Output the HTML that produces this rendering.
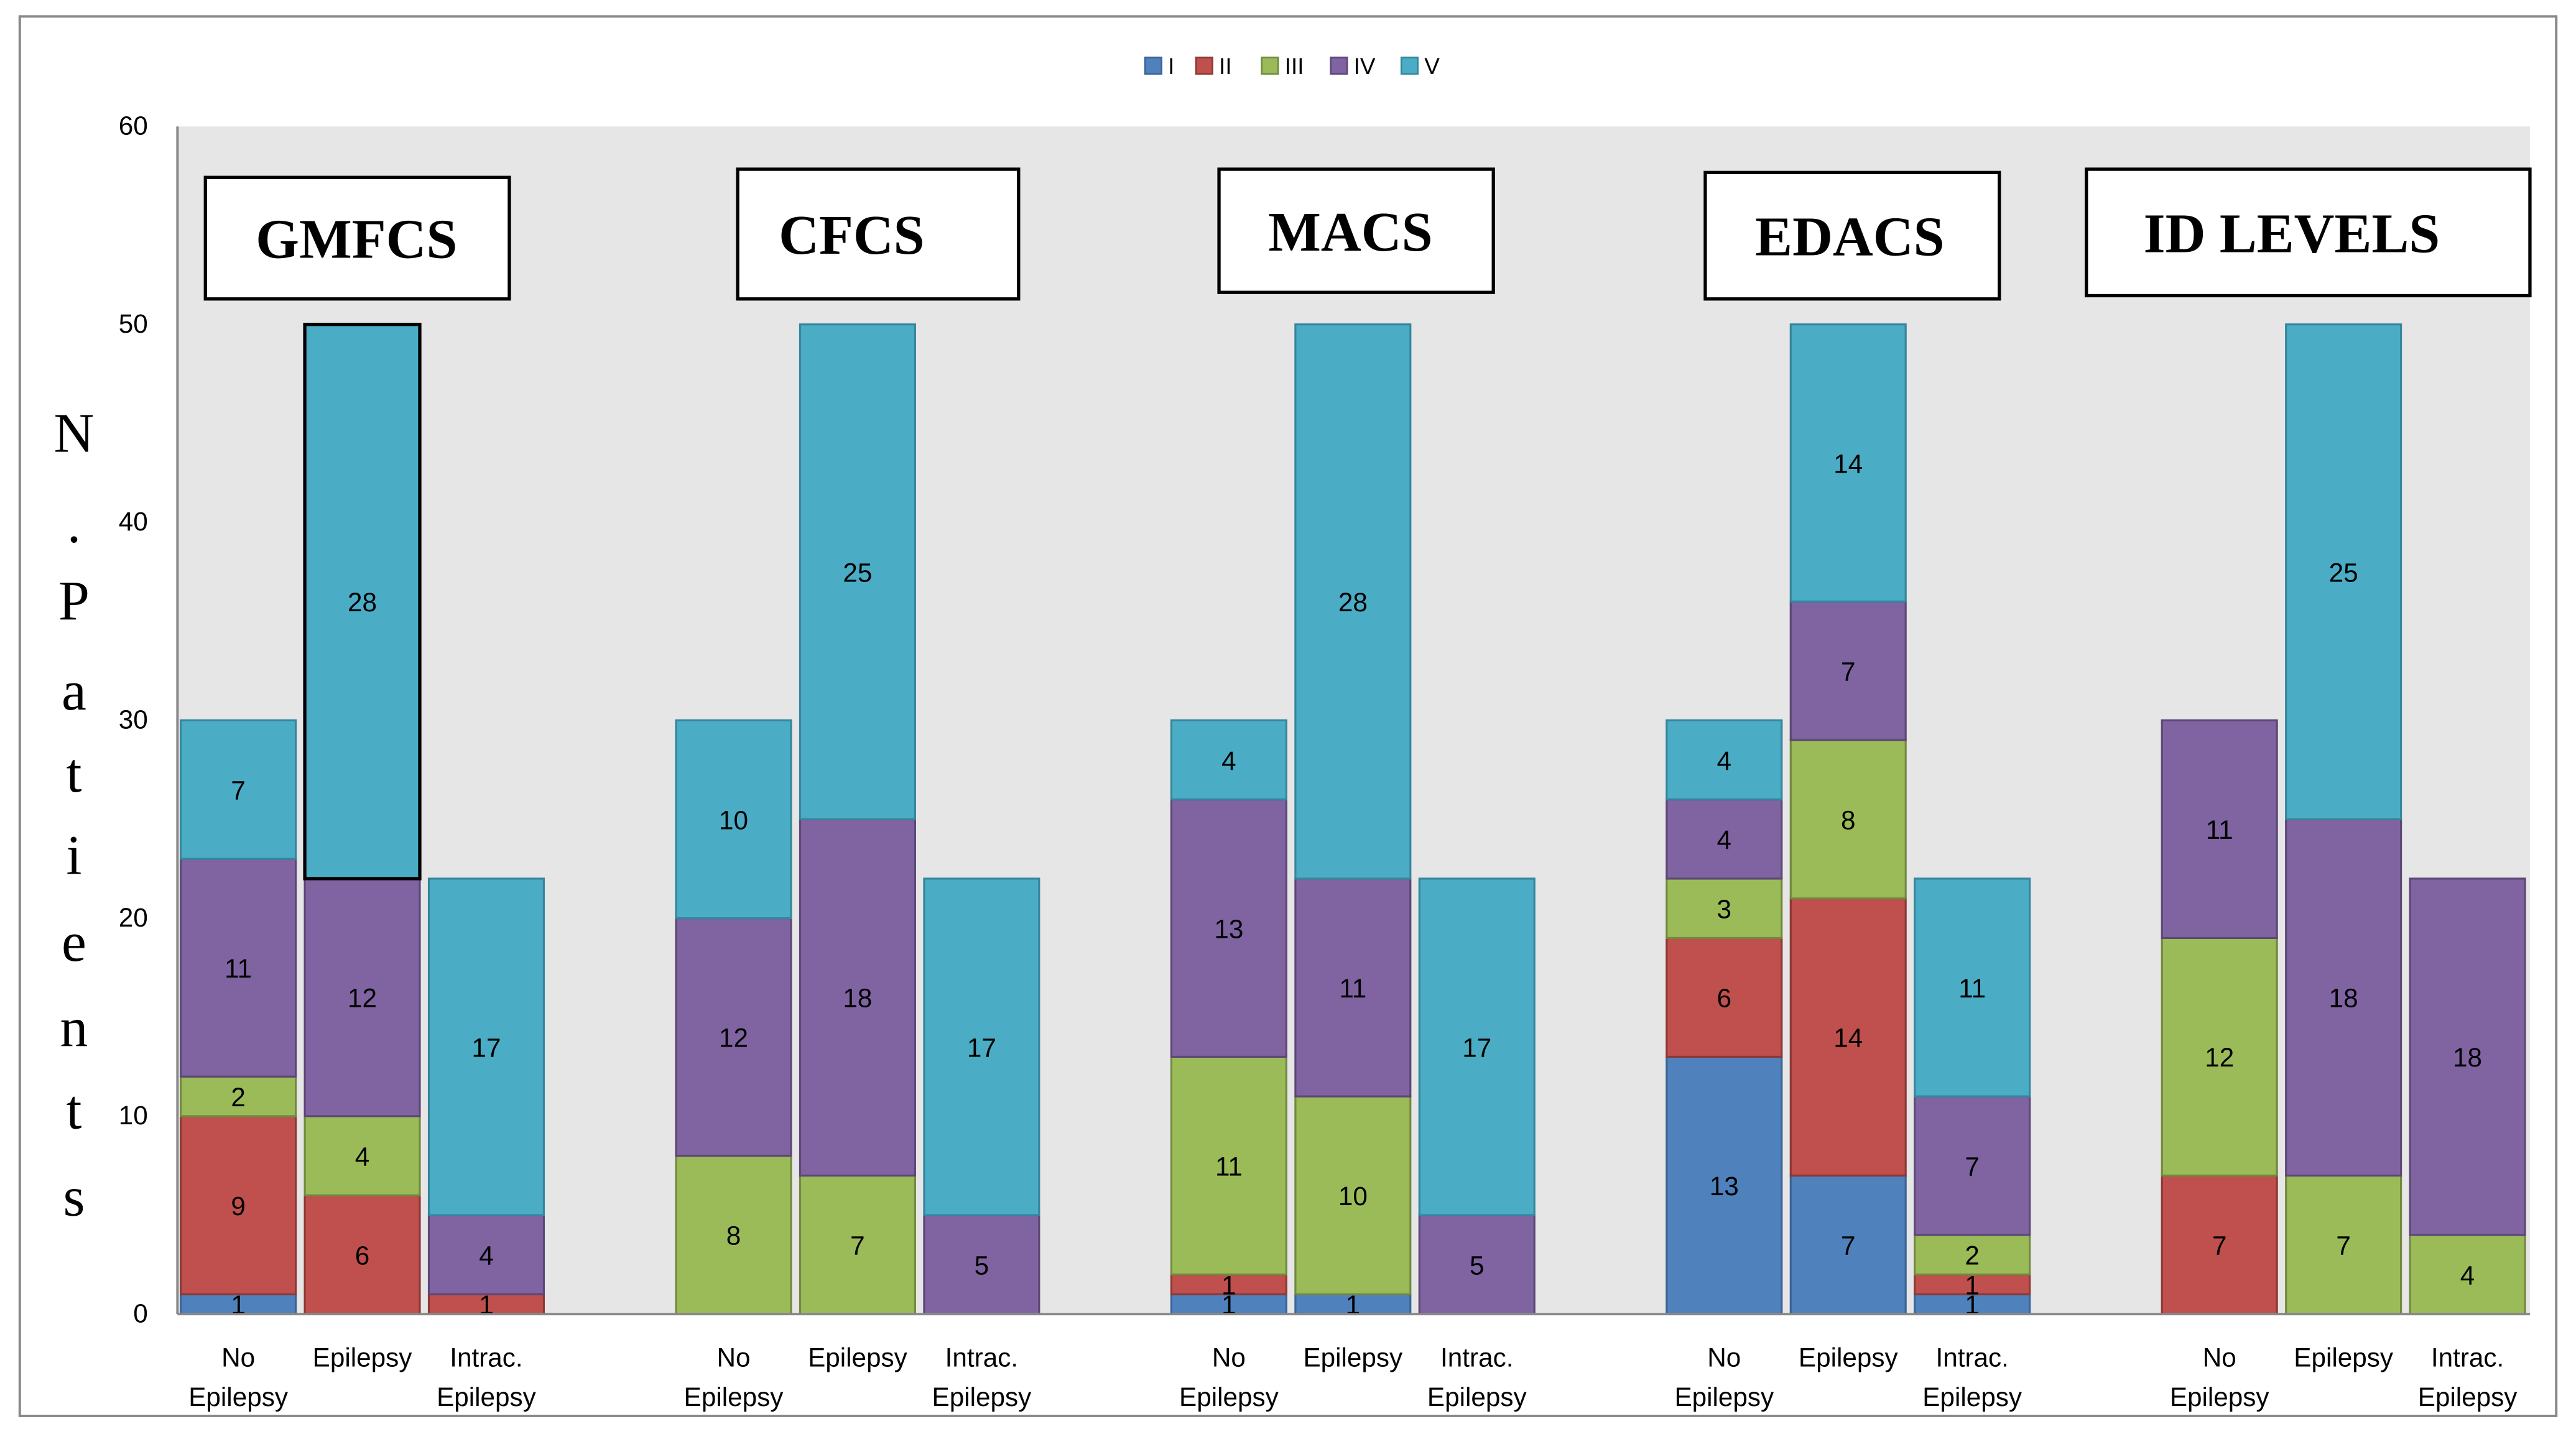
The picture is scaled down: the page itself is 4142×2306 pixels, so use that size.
<!DOCTYPE html>
<html><head><meta charset="utf-8"><style>
html,body{margin:0;padding:0;background:#fff;}
svg{display:block;}
</style></head><body>
<svg id="chart" width="4142" height="2306" viewBox="0 0 1568 873" xmlns="http://www.w3.org/2000/svg">
<rect x="12" y="10" width="1544" height="852" fill="#fff" stroke="#888" stroke-width="1.5"/>
<rect x="108" y="77" width="1432" height="723" fill="#e6e6e6"/>
<g id="yticks"></g>
<g id="bars"></g>
<line x1="108" y1="77" x2="108" y2="800" stroke="#888" stroke-width="1.5"/>
<line x1="108" y1="800" x2="1540" y2="800" stroke="#888" stroke-width="1.5"/>
<g id="xlabels"></g>
<g id="titles"></g>
<g id="legend"></g>
<g id="ytitle"></g>
</svg>
<script>
const groups = ["GMFCS","CFCS","MACS","EDACS","ID LEVELS"];
const categories = ["No Epilepsy","Epilepsy","Intrac. Epilepsy"];
const seriesNames = ["I","II","III","IV","V"];
// values[group][category] = [I,II,III,IV,V]
const gmfcs = [[1,9,2,11,7],[0,6,4,12,28],[0,1,0,4,17]];
const cfcs  = [[0,0,8,12,10],[0,0,7,18,25],[0,0,0,5,17]];
const macs  = [[1,1,11,13,4],[1,0,10,11,28],[0,0,0,5,17]];
const edacs = [[13,6,3,4,4],[7,14,8,7,14],[1,1,2,7,11]];
const idlev = [[0,7,12,11,0],[0,0,7,18,25],[0,0,4,18,0]];
const yTicks = [0,10,20,30,40,50,60];

const values=[gmfcs,cfcs,macs,edacs,idlev];
const NS="http://www.w3.org/2000/svg";
const colors=["#4f81bd","#c0504d","#9bbb59","#8064a2","#4bacc6"];
const strokes=["#3a6496","#8c3836","#71893f","#5c4776","#35869c"];
const y0=800,y60=77,yMax=60;
function ys(v){return y0-(v/yMax)*(y0-y60);}
const groupStart=110,groupStep=301.5,barStep=75.5,barW=70;
function xs(g,c){return groupStart+g*groupStep+c*barStep;}
function mk(tag,attrs,parent){const e=document.createElementNS(NS,tag);for(const k in attrs)e.setAttribute(k,attrs[k]);parent.appendChild(e);return e;}
const font='"Liberation Sans", sans-serif';
const yt=document.getElementById('yticks');
yTicks.forEach(t=>{
  const e=mk('text',{x:90,y:ys(t)+5,'text-anchor':'end','font-family':font,'font-size':16,fill:'#000'},yt);
  
  
  e.textContent=t;
});
const bars=document.getElementById('bars');
values.forEach((grp,g)=>{
  grp.forEach((stack,c)=>{
    let cum=0;
    const x=xs(g,c);
    stack.forEach((v,s)=>{
      if(v<=0)return;
      const top=ys(cum+v),bot=ys(cum);
      const r=mk('rect',{x:x,y:top,width:barW,height:bot-top,fill:colors[s],stroke:strokes[s],'stroke-width':1.2},bars);
      
      
      const t=mk('text',{x:x+barW/2,y:(top+bot)/2+6,'text-anchor':'middle','font-family':font,'font-size':16,fill:'#000'},bars);
      
      
      t.textContent=v;
      cum+=v;
    });
  });
});
(function(){
  const s=gmfcs[1];const below=s[0]+s[1]+s[2]+s[3];const tot=below+s[4];
  const o=mk('rect',{x:xs(0,1),y:ys(tot),width:barW,height:ys(below)-ys(tot),fill:'none',stroke:'#000','stroke-width':2},bars);
  
  
})();
const xl=document.getElementById('xlabels');
groups.forEach((gn,g)=>{
  categories.forEach((cn,c)=>{
    const cx=xs(g,c)+barW/2;
    let lines = c===0?["No","Epilepsy"]:c===1?["Epilepsy"]:["Intrac.","Epilepsy"];
    lines.forEach((ln,i)=>{
      const t=mk('text',{x:cx,y:832+i*24,'text-anchor':'middle','font-family':font,'font-size':16,fill:'#000'},xl);
      
      
      t.textContent=ln;
    });
  });
});
const boxes=[[125,108,185,74],[449,103,171,79],[742,103,167,75],[1038,105,179,77],[1270,103,270,77]];
const titleX=[[217,'middle'],[474,'start'],[822,'middle'],[1126,'middle'],[1395,'middle']];
const ti=document.getElementById('titles');
groups.forEach((gn,g)=>{
  const b=boxes[g];
  const r=mk('rect',{x:b[0],y:b[1],width:b[2],height:b[3],fill:'#fff',stroke:'#000','stroke-width':2},ti);
  
  
  const t=mk('text',{x:titleX[g][0],y:b[1]+b[3]/2+12,'text-anchor':titleX[g][1],'font-family':'"Liberation Serif", serif','font-weight':'bold','font-size':34,fill:'#000'},ti);
  
  
  t.textContent=gn;
});
const lg=document.getElementById('legend');
const lx=[697,728,768,810,853];
seriesNames.forEach((n,i)=>{
  const r=mk('rect',{x:lx[i],y:35,width:10,height:10,fill:colors[i],stroke:strokes[i]},lg);
  
  
  const t=mk('text',{x:lx[i]+14,y:45,'font-family':font,'font-size':14,fill:'#000'},lg);
  
  
  t.textContent=n;
});
const ytl=document.getElementById('ytitle');
const chars=["N",".","P","a","t","i","e","n","t","s"];
const cy=[263,318,365,420,470,520,573,625,675,728];
chars.forEach((ch,i)=>{
  const t=mk('text',{x:45,y:cy[i]+12,'text-anchor':'middle','font-family':'"Liberation Serif", serif','font-size':34,fill:'#000'},ytl);
  
  
  t.textContent=ch;
});
</script>
</body></html>
